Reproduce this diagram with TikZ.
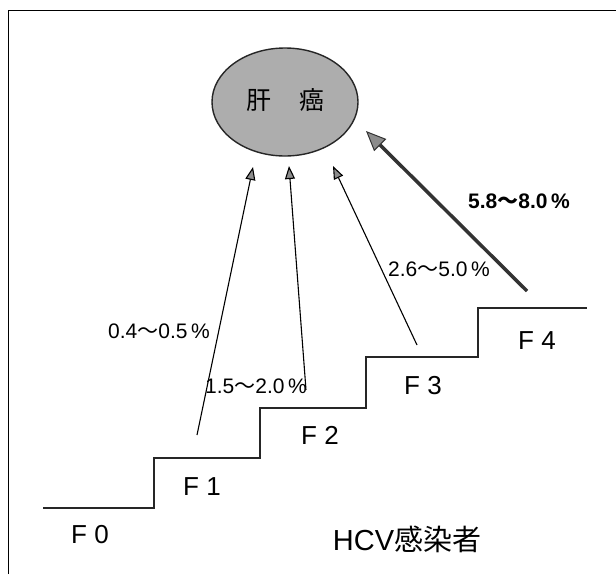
\documentclass[tikz,border=0pt]{standalone}
\usepackage{fontspec}
\setmainfont{Liberation Sans}
\newfontfamily\cjk{Noto Sans CJK JP}
\usetikzlibrary{arrows.meta,shapes.geometric}
\newcommand{\wv}{{\cjk ～}}
\tikzset{
  stair/.style={line width=2pt, black!85},
  thinarrow/.style={line width=1.1pt, -{Triangle[length=13pt,width=10pt,fill=black!45]}},
  thickarrow/.style={line width=3.5pt, -{Triangle[length=20pt,width=17pt,fill=black!45,line width=1pt]}},
  flabel/.style={font=\fontsize{26}{26}\selectfont},
  plabel/.style={font=\fontsize{21}{21}\selectfont},
}
\begin{document}
\begin{tikzpicture}[x=1pt,y=-1pt]
\useasboundingbox (0,0) rectangle (616,574);
% frame
\draw[line width=1.5pt] (8.5,574) -- (8.5,10.5) -- (616,10.5);
% ellipse
\node[draw=black!85, line width=1.4pt, fill=black!32, ellipse, minimum width=146pt, minimum height=108pt, inner sep=0pt] (hcc) at (285,102) {};
\node[font=\cjk\fontsize{25}{25}\selectfont] (kan) at (259,100) {肝};
\node[font=\cjk\fontsize{25}{25}\selectfont] (gan) at (312,100) {癌};
% staircase
\draw[stair] (43,508) -- (154,508) -- (154,458) -- (260,458) -- (260,408) -- (366,408) -- (366,357) -- (478,357) -- (478,308) -- (587,308);
% F labels
\node[flabel] (f0) at (90,535) {F 0};
\node[flabel] (f1) at (202,487) {F 1};
\node[flabel] (f2) at (320,435) {F 2};
\node[flabel] (f3) at (423,386) {F 3};
\node[flabel] (f4) at (537,341) {F 4};
\node[font=\fontsize{29}{29}\selectfont] (hcv) at (407,539) {HCV{\cjk 感染者}};
% arrows
\coordinate (s1) at (197,435); \coordinate (t1) at (253,167);
\coordinate (s2) at (306,390); \coordinate (t2) at (289,166);
\coordinate (s3) at (417,345); \coordinate (t3) at (333,166);
\coordinate (s4) at (527,291); \coordinate (t4) at (366,131);
\draw[thinarrow] (s1) -- (t1);
\draw[thinarrow] (s2) -- (t2);
\draw[thinarrow] (s3) -- (t3);
\draw[thickarrow, black!80] (s4) -- (t4);
% percentage labels
\node[plabel] (p1) at (159,331) {0.4\wv0.5\,\%};
\node[plabel] (p2) at (256,386) {1.5\wv2.0\,\%};
\node[plabel] (p3) at (439,269) {2.6\wv5.0\,\%};
\node[plabel, font=\bfseries\fontsize{21}{21}\selectfont] (p4) at (519,201) {5.8\wv8.0\,\%};
\end{tikzpicture}
\end{document}
